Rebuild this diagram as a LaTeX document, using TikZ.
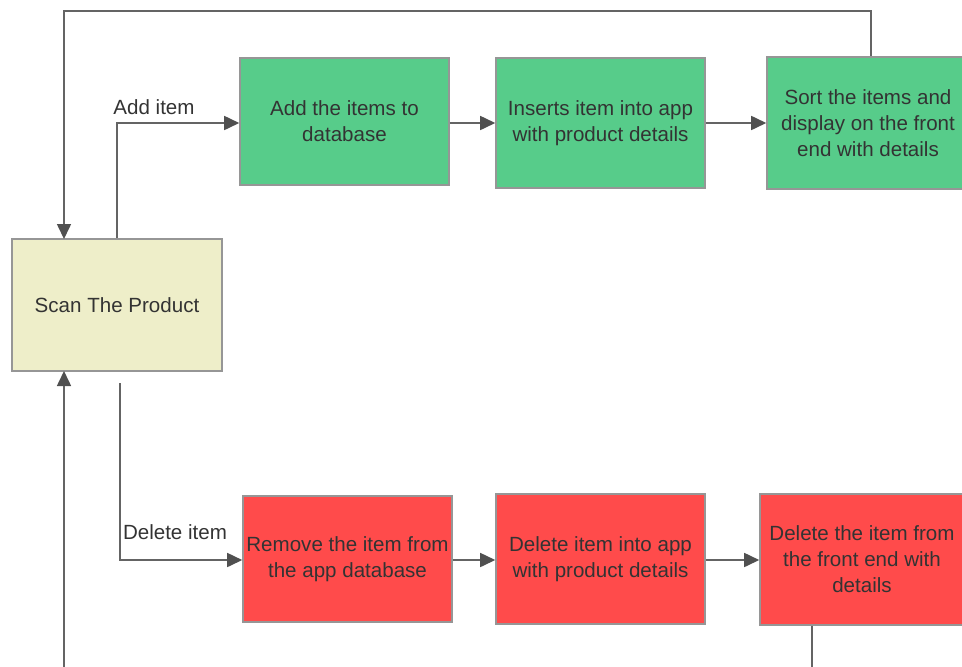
\documentclass[tikz,border=0pt]{standalone}
\usepackage{fontspec}
\setmainfont{Liberation Sans}
\usetikzlibrary{arrows.meta}
\definecolor{scanfill}{RGB}{238,238,201}
\definecolor{addfill}{RGB}{87,204,138}
\definecolor{delfill}{RGB}{255,75,75}
\definecolor{boxline}{RGB}{150,150,150}
\definecolor{flowline}{RGB}{100,100,100}
\definecolor{tiphead}{RGB}{80,80,80}
\definecolor{txt}{RGB}{51,51,51}
\tikzset{
  stepbox/.style={draw=boxline, line width=0.9pt, align=center, text=txt, inner sep=0pt,
    font=\fontsize{11.7}{14.8}\selectfont},
  flow/.style={draw=flowline, line width=0.9pt,
    -{Triangle[length=0.3cm, width=0.28cm, fill=tiphead, color=tiphead]}},
  flowlabel/.style={text=txt, font=\fontsize{11.7}{13}\selectfont, inner sep=1pt}
}
\begin{document}
\begin{tikzpicture}[x=0.02cm, y=-0.02cm]
    \useasboundingbox (0,0) rectangle (962,666);
    \clip (0,0) rectangle (962,666);
    %ESCANEO:
    \node[stepbox, fill=scanfill, minimum width=4.2cm, minimum height=2.64cm] (scan) at (117,305) {Scan The Product};
    %AGREGAR:
    \node[stepbox, fill=addfill, minimum width=4.18cm, minimum height=2.54cm] (add) at (344.5,121.5) {Add the items to\\database};
    \node[stepbox, fill=addfill, minimum width=4.18cm, minimum height=2.6cm] (ins) at (600.5,123) {Inserts item into app\\with product details};
    \node[stepbox, fill=addfill, minimum width=4.04cm, minimum height=2.64cm] (sort) at (868,123) {Sort the items and\\display on the front\\end with details};
    %BORRAR:
    \node[stepbox, fill=delfill, minimum width=4.18cm, minimum height=2.52cm] (rem) at (347.5,559) {Remove the item from\\the app database};
    \node[stepbox, fill=delfill, minimum width=4.18cm, minimum height=2.6cm] (delapp) at (600.5,559) {Delete item into app\\with product details};
    \node[stepbox, fill=delfill, minimum width=4.08cm, minimum height=2.62cm] (delfe) at (862,559.5) {Delete the item from\\the front end with\\details};
    %puntos auxiliares
    \coordinate (topturn) at (871,11);
    \coordinate (delstart) at (120,383);
    \coordinate (backdown) at (812,700);
    %flechas----------------------------------
    \draw[flow] (scan.north) -- (117,123) node[flowlabel, anchor=south, xshift=0.74cm, yshift=0.12cm] {Add item} -- (add.west |- 0,123);
    \draw[flow] (add.east |- 0,123) -- (ins.west |- 0,123);
    \draw[flow] (ins.east) -- (sort.west |- ins.east);
    \draw[flow] (sort.north -| topturn) -- (topturn) -- (64,11) -- (64,239);
    \draw[flow] (delstart) -- (120,560) node[flowlabel, anchor=south, xshift=1.1cm, yshift=0.36cm] {Delete item} -- (rem.west |- 0,560);
    \draw[flow] (rem.east |- 0,560) -- (delapp.west |- 0,560);
    \draw[flow] (delapp.east |- 0,560) -- (delfe.west |- 0,560);
    \draw[flow] (delfe.south -| backdown) -- (backdown) -- (64,700) -- (64,371);
    %-----------------------------------------
\end{tikzpicture}
\end{document}
